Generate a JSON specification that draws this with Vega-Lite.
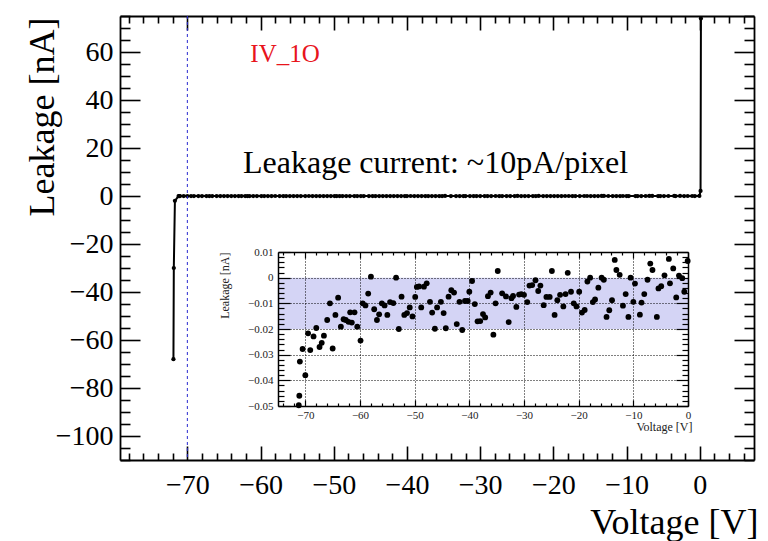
{
  "$schema": "https://vega.github.io/schema/vega-lite/v6.json",
  "width": 634,
  "height": 444,
  "autosize": {"type": "none"},
  "padding": {"left": 120, "top": 16, "right": 14, "bottom": 81},
  "background": "white",
  "config": {"view": {"stroke": null}},
  "datasets": {
    "iv": [
      {"V": -71.9, "I": -68},
      {"V": -71.85, "I": -30},
      {"V": -71.7, "I": -2},
      {"V": -71.2, "I": -0.0497},
      {"V": -71.1, "I": -0.046},
      {"V": -71.0, "I": -0.0327},
      {"V": -70.5, "I": -0.0278},
      {"V": -70.0, "I": -0.038},
      {"V": -69.5, "I": -0.0217},
      {"V": -69.1, "I": -0.0282},
      {"V": -68.5, "I": -0.0229},
      {"V": -68.0, "I": -0.0196},
      {"V": -67.4, "I": -0.027},
      {"V": -67.0, "I": -0.0254},
      {"V": -66.6, "I": -0.0226},
      {"V": -66.0, "I": -0.0165},
      {"V": -65.5, "I": -0.01},
      {"V": -65.0, "I": -0.0276},
      {"V": -64.5, "I": -0.0145},
      {"V": -64.0, "I": -0.0078},
      {"V": -63.5, "I": -0.0191},
      {"V": -63.0, "I": -0.0162},
      {"V": -62.6, "I": -0.0165},
      {"V": -62.1, "I": -0.0172},
      {"V": -61.8, "I": -0.0135},
      {"V": -61.5, "I": -0.0175},
      {"V": -61.0, "I": -0.0135},
      {"V": -60.5, "I": -0.0191},
      {"V": -59.9, "I": -0.0245},
      {"V": -59.5, "I": -0.01},
      {"V": -59.0, "I": -0.0108},
      {"V": -58.5, "I": -0.0062},
      {"V": -58.0, "I": 0.0004},
      {"V": -57.4, "I": -0.0123},
      {"V": -56.9, "I": -0.0165},
      {"V": -56.5, "I": -0.0143},
      {"V": -56.0, "I": -0.01},
      {"V": -55.5, "I": -0.0108},
      {"V": -55.0, "I": -0.0145},
      {"V": -54.5, "I": -0.0095},
      {"V": -53.9, "I": -0.0099},
      {"V": -53.4, "I": 0.0},
      {"V": -52.9, "I": -0.02},
      {"V": -52.4, "I": -0.0074},
      {"V": -51.9, "I": -0.0145},
      {"V": -51.4, "I": -0.0138},
      {"V": -50.9, "I": -0.0116},
      {"V": -50.4, "I": -0.0151},
      {"V": -49.9, "I": -0.0075},
      {"V": -49.6, "I": -0.0036},
      {"V": -49.2, "I": -0.0034},
      {"V": -48.8, "I": -0.0116},
      {"V": -48.3, "I": -0.0035},
      {"V": -47.8, "I": -0.0022},
      {"V": -47.2, "I": -0.0094},
      {"V": -46.8, "I": -0.0136},
      {"V": -46.3, "I": -0.0199},
      {"V": -45.9, "I": -0.0116},
      {"V": -45.2, "I": -0.0094},
      {"V": -44.7, "I": -0.0138},
      {"V": -44.3, "I": -0.0197},
      {"V": -43.8, "I": -0.0074},
      {"V": -43.3, "I": -0.0049},
      {"V": -42.8, "I": -0.0058},
      {"V": -42.3, "I": -0.0181},
      {"V": -41.8, "I": -0.0094},
      {"V": -41.3, "I": -0.0204},
      {"V": -40.8, "I": -0.0091},
      {"V": -40.3, "I": -0.0091},
      {"V": -40.0, "I": -0.0055},
      {"V": -39.5, "I": -0.0013},
      {"V": -39.0, "I": -0.0103},
      {"V": -38.5, "I": -0.017},
      {"V": -38.0, "I": -0.0169},
      {"V": -37.5, "I": -0.0142},
      {"V": -37.1, "I": -0.0155},
      {"V": -36.6, "I": -0.0072},
      {"V": -36.1, "I": -0.0058},
      {"V": -35.6, "I": -0.0222},
      {"V": -35.2, "I": -0.01},
      {"V": -34.8, "I": 0.0026},
      {"V": -34.0, "I": -0.0061},
      {"V": -33.3, "I": -0.0073},
      {"V": -32.8, "I": -0.0173},
      {"V": -32.3, "I": -0.008},
      {"V": -32.0, "I": -0.0071},
      {"V": -31.4, "I": -0.0114},
      {"V": -30.9, "I": -0.0066},
      {"V": -30.5, "I": -0.0064},
      {"V": -30.0, "I": -0.0067},
      {"V": -29.4, "I": -0.0095},
      {"V": -29.0, "I": -0.0031},
      {"V": -28.5, "I": -0.0029},
      {"V": -27.9, "I": -0.001},
      {"V": -27.4, "I": -0.0052},
      {"V": -27.0, "I": -0.0031},
      {"V": -26.4, "I": -0.0107},
      {"V": -25.9, "I": -0.0075},
      {"V": -25.3, "I": -0.0075},
      {"V": -24.9, "I": 0.0026},
      {"V": -24.4, "I": -0.0145},
      {"V": -23.9, "I": -0.0088},
      {"V": -23.4, "I": -0.0067},
      {"V": -22.8, "I": -0.0112},
      {"V": -22.4, "I": -0.0064},
      {"V": -22.0, "I": 0.0019},
      {"V": -21.4, "I": -0.0055},
      {"V": -20.9, "I": -0.01},
      {"V": -20.4, "I": -0.0112},
      {"V": -19.9, "I": -0.0055},
      {"V": -19.4, "I": -0.0136},
      {"V": -18.9, "I": -0.0126},
      {"V": -18.4, "I": -0.0015},
      {"V": -17.9, "I": 0.0},
      {"V": -17.4, "I": -0.0095},
      {"V": -17.0, "I": -0.0085},
      {"V": -16.4, "I": -0.0039},
      {"V": -15.8, "I": 0.0},
      {"V": -15.4, "I": -0.0008},
      {"V": -14.9, "I": -0.0153},
      {"V": -14.4, "I": -0.0127},
      {"V": -13.9, "I": -0.0088},
      {"V": -13.4, "I": 0.0069},
      {"V": -13.1, "I": 0.003},
      {"V": -12.5, "I": 0.0011},
      {"V": -11.9, "I": -0.0109},
      {"V": -11.4, "I": -0.0064},
      {"V": -10.9, "I": -0.0153},
      {"V": -10.5, "I": 0.0},
      {"V": -10.0, "I": -0.0094},
      {"V": -9.7, "I": -0.0023},
      {"V": -8.8, "I": -0.0144},
      {"V": -8.5, "I": -0.0097},
      {"V": -8.0, "I": -0.0064},
      {"V": -7.4, "I": -0.0008},
      {"V": -6.9, "I": 0.0055},
      {"V": -6.5, "I": 0.003},
      {"V": -5.7, "I": -0.0153},
      {"V": -5.4, "I": -0.0042},
      {"V": -4.9, "I": -0.0033},
      {"V": -4.3, "I": 0.0009},
      {"V": -3.5, "I": 0.0073},
      {"V": -3.3, "I": -0.0022},
      {"V": -2.7, "I": 0.0036},
      {"V": -2.15, "I": -0.0077},
      {"V": -1.65, "I": 0.0008},
      {"V": -1.05, "I": -0.0002},
      {"V": -0.68, "I": -0.0055},
      {"V": -0.06, "I": 0.0065},
      {"V": 0.1, "I": 2.1},
      {"V": 0.15, "I": 74}
    ]
  },
  "resolve": {
    "scale": {"x": "independent", "y": "independent"},
    "axis": {"x": "independent", "y": "independent"}
  },
  "layer": [
    {
      "data": {"values": [{}]},
      "mark": {"type": "rect", "color": "#d4d4f5"},
      "encoding": {
        "x": {"datum": -75, "type": "quantitative", "scale": {"domain": [-75, 0], "range": [158, 568], "nice": false, "zero": false}, "axis": null},
        "x2": {"datum": 0},
        "y": {"datum": -0.02, "type": "quantitative", "scale": {"domain": [-0.05, 0.01], "range": [390, 236], "nice": false, "zero": false}, "axis": null},
        "y2": {"datum": 0}
      }
    },
    {
      "data": {"name": "iv"},
      "mark": {"type": "line", "color": "black", "strokeWidth": 2},
      "encoding": {
        "x": {
          "field": "V", "type": "quantitative",
          "scale": {"domain": [-79.2, 7.4], "nice": false, "zero": false},
          "axis": {
            "orient": "bottom",
            "values": [-78,-76,-74,-72,-70,-68,-66,-64,-62,-60,-58,-56,-54,-52,-50,-48,-46,-44,-42,-40,-38,-36,-34,-32,-30,-28,-26,-24,-22,-20,-18,-16,-14,-12,-10,-8,-6,-4,-2,0,2,4,6],
            "tickSize": {"condition": {"test": "datum.value % 10 === 0", "value": -14}, "value": -7},
            "tickColor": "black", "tickWidth": 1.6,
            "domainColor": "black", "domainWidth": 1.8,
            "labelExpr": "datum.value % 10 === 0 ? datum.label : ''",
            "labelFont": "Liberation Serif", "labelFontSize": 28, "labelColor": "black",
            "labelPadding": 25, "labelFlush": false, "labelOverlap": false,
            "grid": false,
            "title": "Voltage [V]",
            "titleFont": "Liberation Serif", "titleFontSize": 36, "titleFontWeight": "normal", "titleColor": "black",
            "titleX": 638, "titleY": 73, "titleAlign": "right", "titleBaseline": "alphabetic"
          }
        },
        "y": {
          "field": "I", "type": "quantitative",
          "scale": {"domain": [-110, 75], "nice": false, "zero": false},
          "axis": {
            "orient": "left",
            "values": [-110,-105,-100,-95,-90,-85,-80,-75,-70,-65,-60,-55,-50,-45,-40,-35,-30,-25,-20,-15,-10,-5,0,5,10,15,20,25,30,35,40,45,50,55,60,65,70,75],
            "tickSize": {"condition": {"test": "datum.value % 20 === 0", "value": -20}, "value": -10},
            "tickColor": "black", "tickWidth": 1.6,
            "domainColor": "black", "domainWidth": 1.8,
            "labelExpr": "datum.value % 20 === 0 ? datum.label : ''",
            "labelFont": "Liberation Serif", "labelFontSize": 28, "labelColor": "black",
            "labelPadding": 27, "labelFlush": false, "labelOverlap": false,
            "grid": false,
            "title": "Leakage [nA]",
            "titleFont": "Liberation Serif", "titleFontSize": 36, "titleFontWeight": "normal", "titleColor": "black",
            "titleAngle": -90, "titleX": -67, "titleY": 1, "titleAlign": "right", "titleBaseline": "alphabetic"
          }
        }
      }
    },
    {
      "data": {"name": "iv"},
      "mark": {"type": "point", "filled": true, "color": "black", "size": 18, "opacity": 1},
      "encoding": {
        "x": {
          "field": "V", "type": "quantitative",
          "scale": {"domain": [-79.2, 7.4], "nice": false, "zero": false},
          "axis": {
            "orient": "top",
            "values": [-78,-76,-74,-72,-70,-68,-66,-64,-62,-60,-58,-56,-54,-52,-50,-48,-46,-44,-42,-40,-38,-36,-34,-32,-30,-28,-26,-24,-22,-20,-18,-16,-14,-12,-10,-8,-6,-4,-2,0,2,4,6],
            "tickSize": {"condition": {"test": "datum.value % 10 === 0", "value": -14}, "value": -7},
            "tickColor": "black", "tickWidth": 1.6,
            "domainColor": "black", "domainWidth": 1.8,
            "labels": false, "grid": false, "title": null
          }
        },
        "y": {
          "field": "I", "type": "quantitative",
          "scale": {"domain": [-110, 75], "nice": false, "zero": false},
          "axis": {
            "orient": "right",
            "values": [-110,-105,-100,-95,-90,-85,-80,-75,-70,-65,-60,-55,-50,-45,-40,-35,-30,-25,-20,-15,-10,-5,0,5,10,15,20,25,30,35,40,45,50,55,60,65,70,75],
            "tickSize": {"condition": {"test": "datum.value % 20 === 0", "value": -20}, "value": -10},
            "tickColor": "black", "tickWidth": 1.6,
            "domainColor": "black", "domainWidth": 1.8,
            "labels": false, "grid": false, "title": null
          }
        }
      }
    },
    {
      "data": {"values": [{}]},
      "mark": {"type": "rule", "color": "#2a2ad0", "strokeWidth": 1, "strokeDash": [3, 3]},
      "encoding": {
        "x": {"datum": -70, "type": "quantitative", "scale": {"domain": [-79.2, 7.4], "nice": false, "zero": false}, "axis": null}
      }
    },
    {
      "data": {"values": [{}]},
      "mark": {"type": "text", "text": "IV_1O", "color": "#e8141c", "font": "Liberation Serif", "fontSize": 25, "align": "left", "baseline": "alphabetic"},
      "encoding": {
        "x": {"datum": -61.4, "type": "quantitative", "scale": {"domain": [-79.2, 7.4], "nice": false, "zero": false}, "axis": null},
        "y": {"datum": 55.8, "type": "quantitative", "scale": {"domain": [-110, 75], "nice": false, "zero": false}, "axis": null}
      }
    },
    {
      "data": {"values": [{}]},
      "mark": {"type": "text", "text": "Leakage current: ~10pA/pixel", "color": "black", "font": "Liberation Serif", "fontSize": 32, "align": "left", "baseline": "alphabetic"},
      "encoding": {
        "x": {"datum": -62.4, "type": "quantitative", "scale": {"domain": [-79.2, 7.4], "nice": false, "zero": false}, "axis": null},
        "y": {"datum": 9.6, "type": "quantitative", "scale": {"domain": [-110, 75], "nice": false, "zero": false}, "axis": null}
      }
    },
    {
      "data": {"name": "iv"},
      "transform": [{"filter": "abs(datum.I) < 1 && datum.V <= 0"}],
      "mark": {"type": "point", "opacity": 0},
      "encoding": {
        "x": {
          "field": "V", "type": "quantitative",
          "scale": {"domain": [-75, 0], "range": [158, 568], "nice": false, "zero": false},
          "axis": {
            "orient": "bottom", "offset": -54, "zindex": 1,
            "values": [-70, -60, -50, -40, -30, -20, -10],
            "tickSize": -154, "tickColor": "black", "tickWidth": 1, "tickDash": [1, 2],
            "domain": false, "labels": false, "grid": false, "title": null
          }
        },
        "y": {
          "field": "I", "type": "quantitative",
          "scale": {"domain": [-0.05, 0.01], "range": [390, 236], "nice": false, "zero": false},
          "axis": {
            "orient": "left", "offset": -158, "zindex": 1,
            "values": [-0.04, -0.03, -0.02, -0.01, 0],
            "tickSize": -410, "tickColor": "black", "tickWidth": 1, "tickDash": [1, 2],
            "domain": false, "labels": false, "grid": false, "title": null
          }
        }
      }
    },
    {
      "data": {"name": "iv"},
      "transform": [{"filter": "abs(datum.I) < 1 && datum.V <= 0"}],
      "mark": {"type": "point", "opacity": 0},
      "encoding": {
        "x": {
          "field": "V", "type": "quantitative",
          "scale": {"domain": [-75, 0], "range": [158, 568], "nice": false, "zero": false},
          "axis": {
            "orient": "top", "offset": -236, "zindex": 1,
            "values": [-74,-72,-70,-68,-66,-64,-62,-60,-58,-56,-54,-52,-50,-48,-46,-44,-42,-40,-38,-36,-34,-32,-30,-28,-26,-24,-22,-20,-18,-16,-14,-12,-10,-8,-6,-4,-2,0],
            "tickSize": {"condition": {"test": "datum.value % 10 === 0", "value": -6}, "value": -3},
            "tickColor": "black", "tickWidth": 1.2,
            "domainColor": "black", "domainWidth": 1.5,
            "labels": false, "grid": false, "title": null
          }
        },
        "y": {
          "field": "I", "type": "quantitative",
          "scale": {"domain": [-0.05, 0.01], "range": [390, 236], "nice": false, "zero": false},
          "axis": {
            "orient": "right", "offset": -66, "zindex": 1,
            "values": [-0.05,-0.048,-0.046,-0.044,-0.042,-0.04,-0.038,-0.036,-0.034,-0.032,-0.03,-0.028,-0.026,-0.024,-0.022,-0.02,-0.018,-0.016,-0.014,-0.012,-0.01,-0.008,-0.006,-0.004,-0.002,0,0.002,0.004,0.006,0.008,0.01],
            "tickSize": {"condition": {"test": "abs(datum.value * 100 - round(datum.value * 100)) < 0.001", "value": -12}, "value": -6},
            "tickColor": "black", "tickWidth": 1.2,
            "domainColor": "black", "domainWidth": 1.5,
            "labels": false, "grid": false, "title": null
          }
        }
      }
    },
    {
      "data": {"name": "iv"},
      "transform": [{"filter": "abs(datum.I) < 1 && datum.V <= 0"}],
      "mark": {"type": "point", "filled": true, "color": "black", "size": 34, "opacity": 1},
      "encoding": {
        "x": {
          "field": "V", "type": "quantitative",
          "scale": {"domain": [-75, 0], "range": [158, 568], "nice": false, "zero": false},
          "axis": {
            "orient": "bottom", "offset": -54, "zindex": 1,
            "values": [-74,-72,-70,-68,-66,-64,-62,-60,-58,-56,-54,-52,-50,-48,-46,-44,-42,-40,-38,-36,-34,-32,-30,-28,-26,-24,-22,-20,-18,-16,-14,-12,-10,-8,-6,-4,-2,0],
            "tickSize": {"condition": {"test": "datum.value % 10 === 0", "value": -6}, "value": -3},
            "tickColor": "black", "tickWidth": 1.2,
            "domainColor": "black", "domainWidth": 1.5,
            "labelExpr": "datum.value % 10 === 0 ? datum.label : ''",
            "labelFont": "Liberation Serif", "labelFontSize": 11, "labelColor": "#222222",
            "labelPadding": 9, "labelFlush": false, "labelOverlap": false,
            "grid": false,
            "title": "Voltage [V]",
            "titleFont": "Liberation Serif", "titleFontSize": 12, "titleFontWeight": "normal", "titleColor": "#222222",
            "titleX": 572, "titleY": 24, "titleAlign": "right", "titleBaseline": "alphabetic"
          }
        },
        "y": {
          "field": "I", "type": "quantitative",
          "scale": {"domain": [-0.05, 0.01], "range": [390, 236], "nice": false, "zero": false},
          "axis": {
            "orient": "left", "offset": -158, "zindex": 1,
            "values": [-0.05,-0.048,-0.046,-0.044,-0.042,-0.04,-0.038,-0.036,-0.034,-0.032,-0.03,-0.028,-0.026,-0.024,-0.022,-0.02,-0.018,-0.016,-0.014,-0.012,-0.01,-0.008,-0.006,-0.004,-0.002,0,0.002,0.004,0.006,0.008,0.01],
            "tickSize": {"condition": {"test": "abs(datum.value * 100 - round(datum.value * 100)) < 0.001", "value": -12}, "value": -6},
            "tickColor": "black", "tickWidth": 1.2,
            "domainColor": "black", "domainWidth": 1.5,
            "labelExpr": "abs(datum.value * 100 - round(datum.value * 100)) < 0.001 ? format(datum.value, '.2~f') : ''",
            "labelFont": "Liberation Serif", "labelFontSize": 11, "labelColor": "#222222",
            "labelPadding": 17, "labelFlush": false, "labelOverlap": false,
            "grid": false,
            "title": "Leakage [nA]",
            "titleFont": "Liberation Serif", "titleFontSize": 12, "titleFontWeight": "normal", "titleColor": "#222222",
            "titleAngle": -90, "titleX": -50, "titleY": 236, "titleAlign": "right", "titleBaseline": "alphabetic"
          }
        }
      }
    }
  ]
}
